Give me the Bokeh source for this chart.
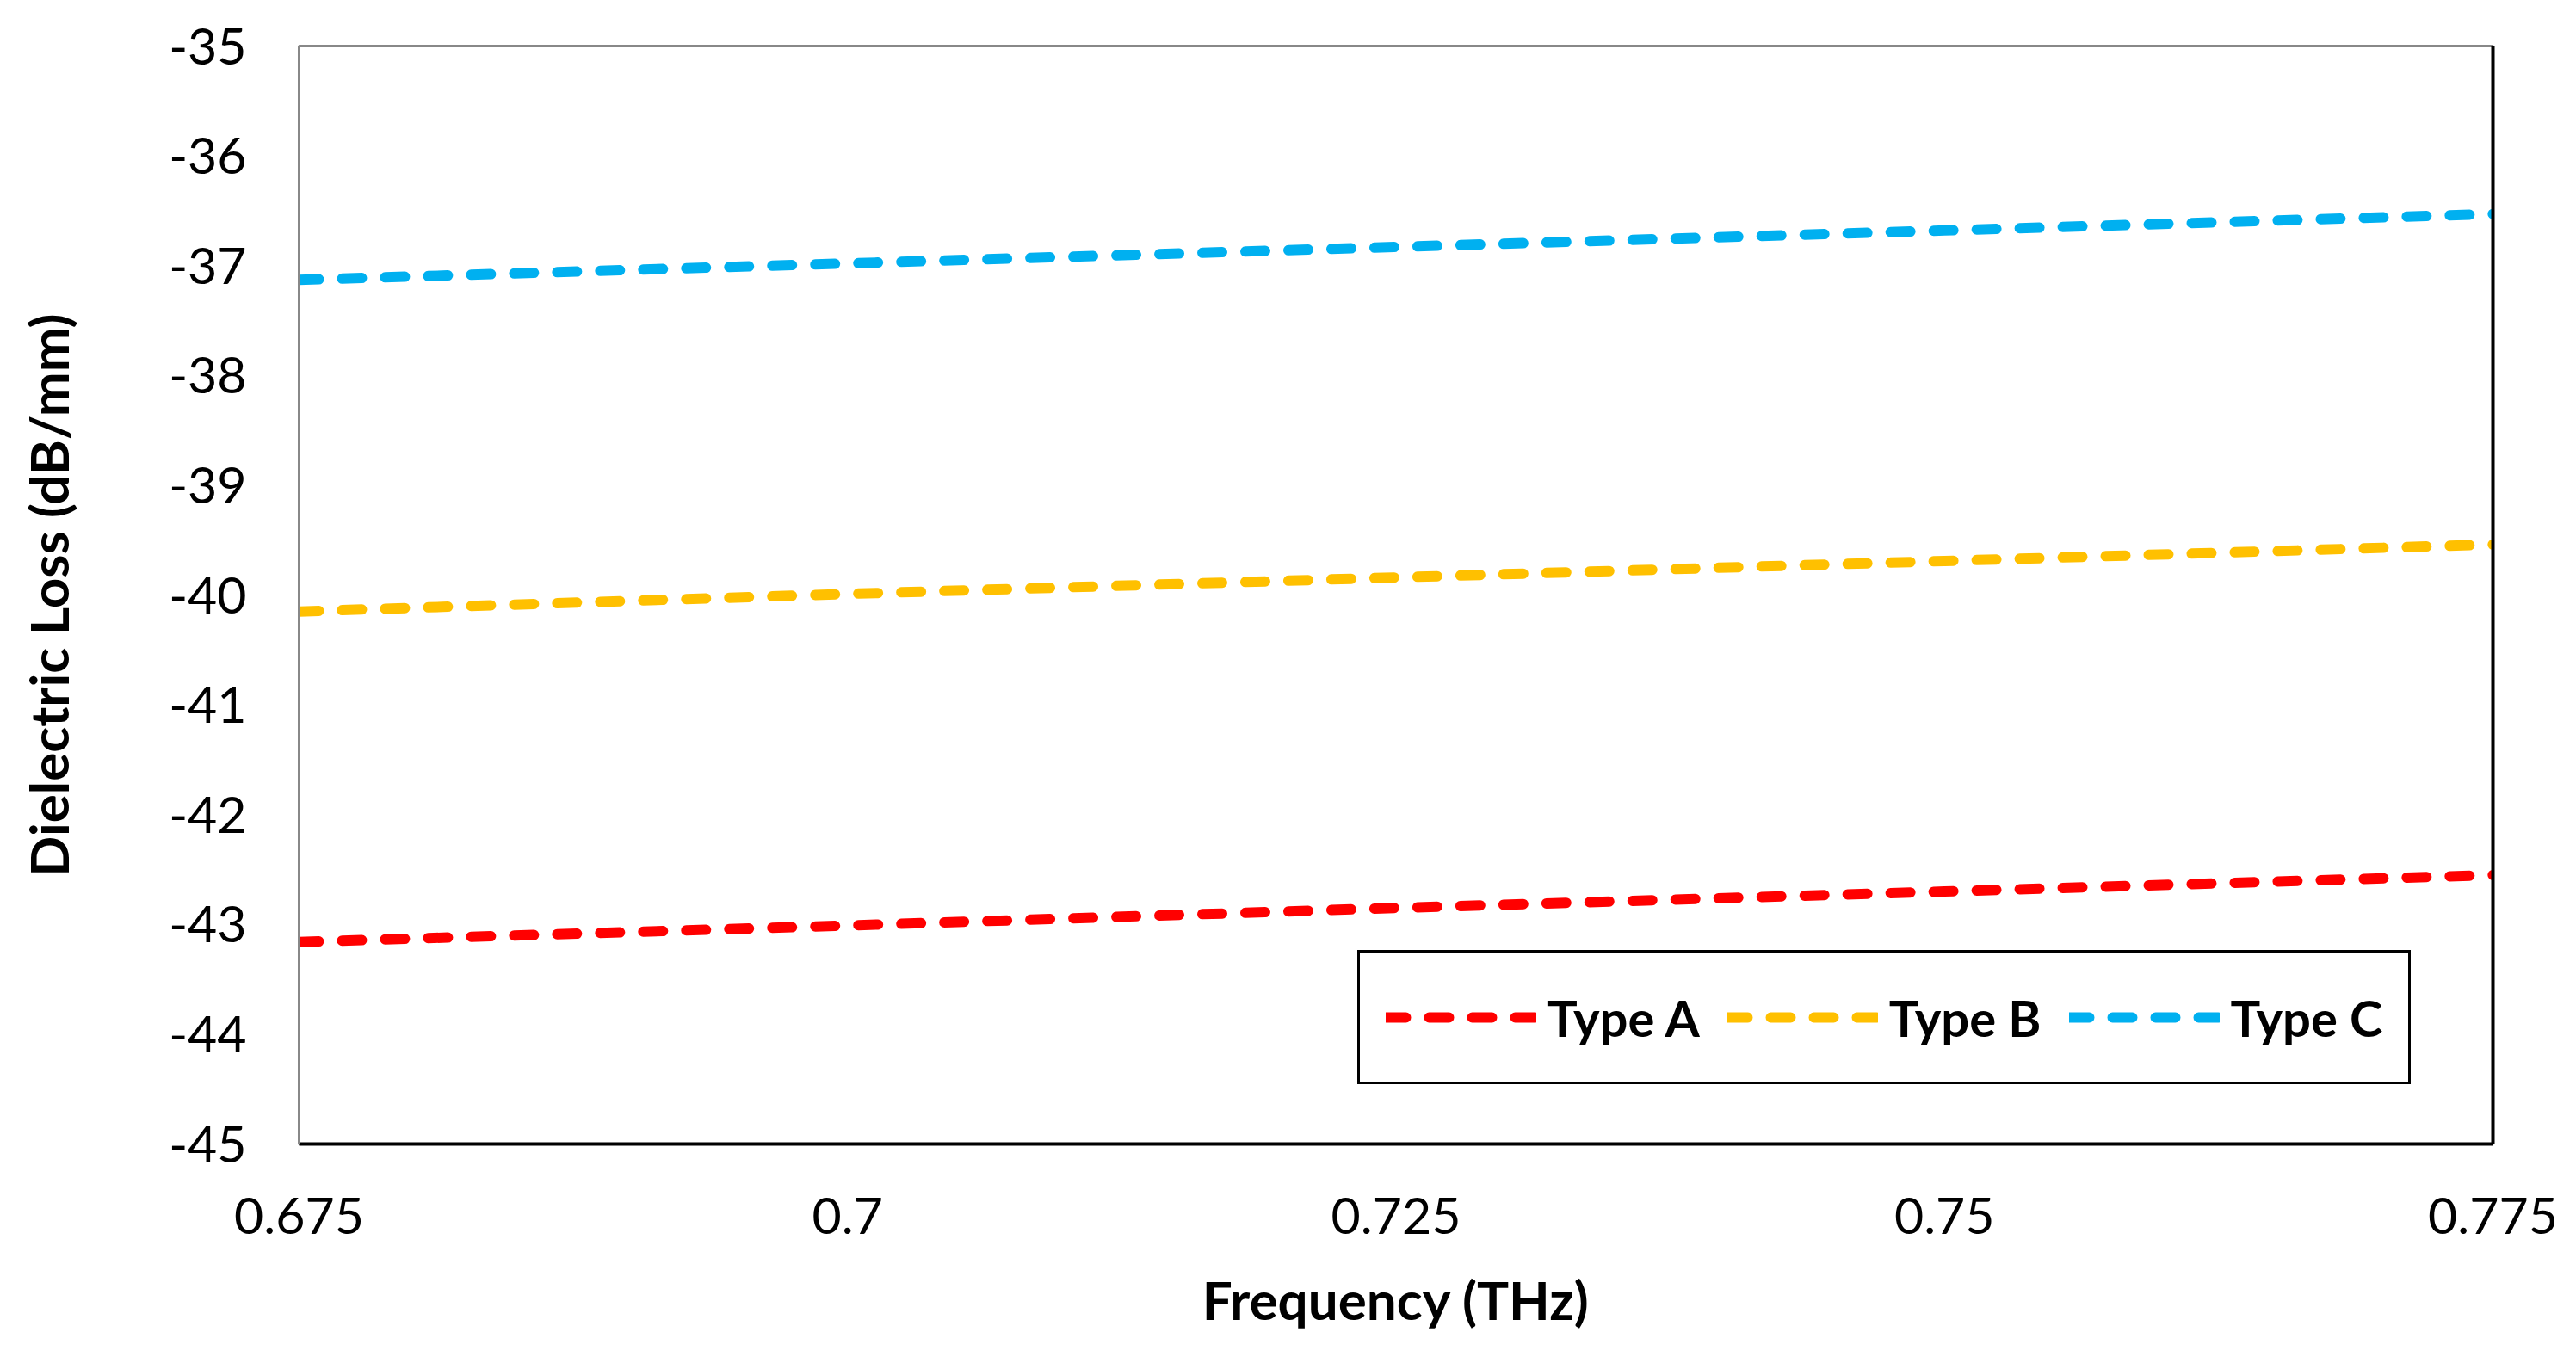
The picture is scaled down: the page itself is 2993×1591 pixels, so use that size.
from bokeh.plotting import figure
from bokeh.models import Legend, LegendItem, FixedTicker, NumeralTickFormatter, LinearAxis, Range1d
from bokeh.embed import file_html
from bokeh.resources import INLINE

freq = [0.675, 0.7, 0.725, 0.75, 0.775]
type_a = [-43.16, -43.01, -42.85, -42.70, -42.55]
type_b = [-40.15, -39.99, -39.84, -39.69, -39.54]
type_c = [-37.13, -36.98, -36.83, -36.68, -36.53]
series_names = ["Type A", "Type B", "Type C"]
series_colors = ["#FF0000", "#FFC000", "#00B0F0"]
x_ticks = [0.675, 0.7, 0.725, 0.75, 0.775]
y_ticks = [-45, -44, -43, -42, -41, -40, -39, -38, -37, -36, -35]

FONT = "Lato"

p = figure(width=2977, height=1575, output_backend="svg", toolbar_location=None,
           x_range=Range1d(0.675, 0.775), y_range=Range1d(-45, -35),
           min_border_left=347, min_border_top=53, min_border_right=81, min_border_bottom=246)
p.grid.visible = False
p.outline_line_color = "#888888"
p.outline_line_width = 3

renderers = []
for ys, col in zip([type_a, type_b, type_c], series_colors):
    r = p.line(freq, ys, line_color=col, line_width=12, line_dash="23 27", line_cap="round")
    renderers.append(r)

for ax in [p.xaxis[0], p.yaxis[0]]:
    ax.major_tick_line_color = None
    ax.minor_tick_line_color = None
    ax.major_label_text_font = FONT
    ax.major_label_text_font_size = "59px"
    ax.major_label_text_color = "#000000"
    ax.axis_label_text_font = FONT
    ax.axis_label_text_font_size = "62px"
    ax.axis_label_text_font_style = "bold"
    ax.axis_label_text_color = "#000000"

p.xaxis.ticker = FixedTicker(ticks=x_ticks)
p.xaxis.formatter = NumeralTickFormatter(format="0.[000]")
p.xaxis.axis_label = "Frequency (THz)"
p.xaxis.axis_line_color = "#000000"
p.xaxis.axis_line_width = 4
p.xaxis.major_label_standoff = 56
p.xaxis.axis_label_standoff = 36

p.yaxis.ticker = FixedTicker(ticks=y_ticks)
p.yaxis.formatter = NumeralTickFormatter(format="0")
p.yaxis.axis_label = "Dielectric Loss (dB/mm)"
p.yaxis.axis_line_color = "#888888"
p.yaxis.axis_line_width = 3
p.yaxis.major_label_standoff = 55
p.yaxis.axis_label_standoff = 100

right_axis = LinearAxis(ticker=FixedTicker(ticks=[]), axis_line_color="#000000", axis_line_width=4,
                        major_tick_line_color=None, minor_tick_line_color=None,
                        major_label_text_font_size="0px")
p.add_layout(right_axis, "right")

legend = Legend(items=[LegendItem(label=n, renderers=[r]) for n, r in zip(series_names, renderers)],
                orientation="horizontal", location=(1230, 69),
                label_text_font=FONT, label_text_font_size="58px", label_text_font_style="bold",
                label_text_color="#000000",
                glyph_width=175, glyph_height=90, padding=30, spacing=32, label_standoff=13,
                border_line_color="#000000", border_line_width=3, border_line_alpha=1.0,
                background_fill_alpha=1.0)
p.add_layout(legend, "center")

open("out.html", "w").write(file_html(p, INLINE))
